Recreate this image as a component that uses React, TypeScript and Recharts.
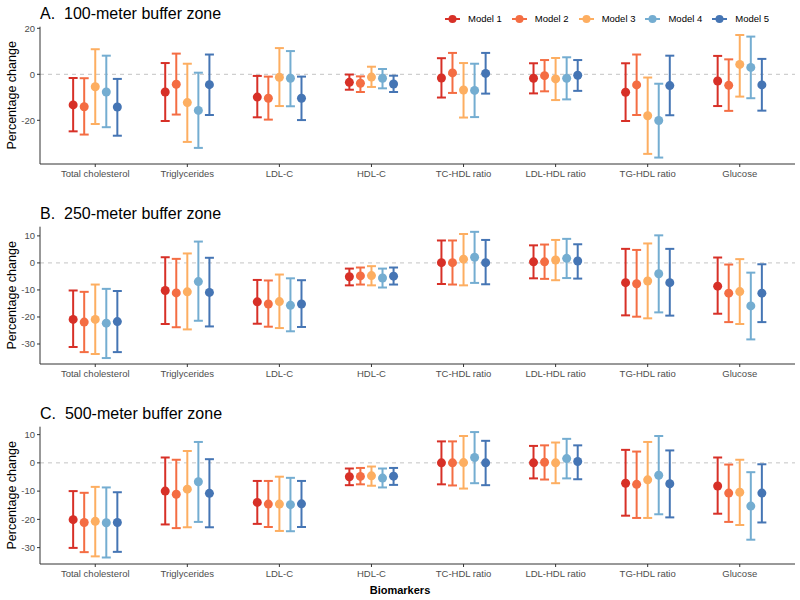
import { ErrorBar, ReferenceLine, Scatter, ScatterChart, XAxis, YAxis } from "recharts";

const BIOMARKERS = [
  "Total cholesterol",
  "Triglycerides",
  "LDL-C",
  "HDL-C",
  "TC-HDL ratio",
  "LDL-HDL ratio",
  "TG-HDL ratio",
  "Glucose",
];

const MODELS = ["Model 1", "Model 2", "Model 3", "Model 4", "Model 5"];
const MODEL_COLORS = ["#D73027", "#F46D43", "#FDAE61", "#74ADD1", "#4575B4"];
// position_dodge offsets, in category units
const DODGE = [-0.24, -0.12, 0, 0.12, 0.24];

// 100-meter buffer: rows = models, columns = biomarkers
const est100 = [
  [-13.3, -7.7, -9.9, -3.5, -1.6, -1.7, -7.8, -2.9],
  [-14.1, -4.3, -10.4, -3.9, 0.6, -0.6, -4.6, -4.8],
  [-5.4, -12.3, -1.3, -1.2, -6.8, -2.0, -18.0, 4.3],
  [-7.7, -15.7, -1.7, -1.7, -7.0, -1.7, -20.1, 3.0],
  [-14.2, -4.5, -10.4, -4.2, 0.4, -0.4, -4.9, -4.6],
];
const low100 = [
  [-24.8, -20.3, -18.7, -6.7, -10.1, -8.3, -20.3, -13.8],
  [-26.2, -17.5, -19.7, -7.7, -8.1, -7.4, -17.7, -15.9],
  [-21.6, -29.4, -13.8, -5.5, -18.8, -11.2, -34.6, -9.7],
  [-23.0, -32.0, -13.9, -6.1, -18.6, -10.9, -36.2, -10.4],
  [-26.7, -17.7, -19.9, -7.7, -8.4, -7.2, -17.8, -15.8],
];
const high100 = [
  [-1.6, 4.9, -0.7, -0.1, 7.0, 4.8, 4.8, 8.0],
  [-1.7, 9.0, -1.0, -0.9, 9.3, 6.2, 8.6, 6.5],
  [10.9, 4.6, 11.4, 3.3, 4.9, 7.1, -1.4, 17.1],
  [8.1, 0.7, 10.1, 2.3, 4.6, 7.4, -4.1, 16.4],
  [-2.0, 8.6, -1.0, -0.6, 9.3, 6.2, 8.1, 6.7],
];

// 250-meter buffer
const est250 = [
  [-20.9, -10.2, -14.4, -5.1, 0.1, 0.4, -7.3, -8.6],
  [-21.9, -11.1, -15.2, -4.8, 0.1, 0.4, -7.7, -11.2],
  [-20.9, -10.7, -14.3, -4.7, 1.4, 1.1, -6.7, -10.6],
  [-22.3, -6.9, -15.7, -5.6, 2.1, 1.7, -4.0, -15.9],
  [-21.7, -10.9, -15.2, -4.9, 0.1, 0.7, -7.3, -11.2],
];
const low250 = [
  [-31.1, -22.6, -22.5, -8.3, -7.8, -5.7, -19.4, -18.8],
  [-33.0, -23.8, -23.6, -8.0, -8.0, -5.9, -19.9, -21.9],
  [-33.7, -24.6, -24.1, -8.3, -8.3, -6.4, -20.5, -22.6],
  [-35.2, -21.4, -25.3, -9.1, -7.4, -5.6, -18.3, -28.3],
  [-33.0, -23.5, -23.7, -8.0, -7.9, -5.8, -19.5, -21.9],
];
const high250 = [
  [-10.2, 2.1, -6.3, -2.1, 8.3, 6.5, 5.2, 2.0],
  [-10.7, 1.5, -6.5, -1.7, 8.3, 6.8, 4.8, -0.6],
  [-8.0, 3.5, -4.3, -1.2, 10.7, 8.5, 7.2, 1.4],
  [-9.6, 7.9, -5.7, -2.1, 11.5, 8.9, 10.2, -3.6],
  [-10.4, 1.9, -6.4, -1.7, 8.5, 6.9, 5.2, -0.5],
];

// 500-meter buffer
const est500 = [
  [-20.1, -10.0, -14.0, -4.9, 0.0, 0.0, -7.2, -8.2],
  [-21.1, -11.1, -14.6, -4.8, 0.0, 0.2, -7.6, -10.7],
  [-20.7, -9.3, -14.6, -4.6, 0.1, 0.0, -6.0, -10.4],
  [-21.2, -6.7, -14.8, -5.4, 1.9, 1.5, -4.4, -15.3],
  [-21.1, -10.8, -14.5, -4.7, 0.0, 0.5, -7.4, -10.7],
];
const low500 = [
  [-30.1, -21.8, -21.6, -7.9, -7.6, -5.5, -18.7, -18.0],
  [-31.6, -23.1, -22.7, -7.6, -8.0, -5.9, -19.5, -20.9],
  [-33.1, -22.8, -24.1, -8.1, -9.1, -7.2, -19.5, -22.0],
  [-33.5, -20.9, -24.2, -8.7, -7.2, -5.5, -18.2, -27.2],
  [-31.5, -22.8, -22.7, -7.8, -7.9, -5.8, -19.3, -21.1],
];
const high500 = [
  [-10.0, 1.9, -6.4, -2.0, 7.6, 6.0, 4.6, 1.9],
  [-10.6, 1.1, -6.4, -1.8, 7.6, 6.2, 4.0, -0.6],
  [-8.5, 4.2, -4.9, -1.3, 9.5, 7.2, 7.4, 1.1],
  [-8.7, 7.4, -5.3, -2.0, 10.9, 8.5, 9.5, -3.3],
  [-10.4, 1.3, -6.4, -1.8, 7.8, 6.2, 4.4, -0.5],
];

const TICKS_100 = [-20, 0, 20];
const TICKS_WIDE = [-30, -20, -10, 0, 10];

const FONT = "'Liberation Sans', Arial, sans-serif";
const AXIS_COLOR = "#333333";
const TICK_COLOR = "#4D4D4D";

function buildRows(est: number[], low: number[], high: number[], k: number) {
  return est.map((v, i) => ({
    x: i + DODGE[k],
    y: v,
    err: [v - low[i], high[i] - v],
  }));
}

interface PanelProps {
  title: string;
  est: number[][];
  low: number[][];
  high: number[][];
  domain: [number, number];
  ticks: number[];
  top: number;
}

function BufferPanel({ title, est, low, high, domain, ticks, top }: PanelProps) {
  return (
    <div style={{ position: "absolute", left: 0, top, width: 800, height: 200 }}>
      <ScatterChart
        width={800}
        height={200}
        margin={{ top: 26.7, right: 5, bottom: 6, left: 0 }}
        style={{ fontFamily: FONT }}
      >
        <XAxis
          type="number"
          dataKey="x"
          domain={[-0.6, 7.6]}
          ticks={BIOMARKERS.map((_, i) => i)}
          tickFormatter={(v: number) => BIOMARKERS[v] ?? ""}
          interval={0}
          height={30}
          tickSize={3}
          tickMargin={3}
          stroke={AXIS_COLOR}
          tick={{ fill: TICK_COLOR, fontSize: 9.5, fontFamily: FONT }}
        />
        <YAxis
          type="number"
          dataKey="y"
          domain={domain}
          ticks={ticks}
          allowDataOverflow
          width={40}
          tickSize={3}
          tickMargin={2}
          stroke={AXIS_COLOR}
          tick={{ fill: TICK_COLOR, fontSize: 9.5, fontFamily: FONT }}
          label={{
            value: "Percentage change",
            angle: -90,
            position: "center",
            dx: -8,
            fill: "#000",
            fontSize: 12.5,
            fontFamily: FONT,
          }}
        />
        <ReferenceLine y={0} stroke="#C4C4C4" strokeDasharray="4 4" strokeWidth={1} />
        {MODELS.map((m, k) => (
          <Scatter
            key={m}
            name={m}
            data={buildRows(est[k], low[k], high[k], k)}
            fill={MODEL_COLORS[k]}
            isAnimationActive={false}
            shape={(p: any) => <circle cx={p.cx} cy={p.cy} r={4.5} fill={MODEL_COLORS[k]} />}
          >
            <ErrorBar
              dataKey="err"
              direction="y"
              width={4.5}
              stroke={MODEL_COLORS[k]}
              strokeWidth={2}
              isAnimationActive={false}
            />
          </Scatter>
        ))}
      </ScatterChart>
      <div
        style={{
          position: "absolute",
          left: 40,
          top: 6,
          fontSize: 16,
          lineHeight: "16px",
          whiteSpace: "pre",
          fontFamily: FONT,
          color: "#000",
        }}
      >
        {title}
      </div>
    </div>
  );
}

function ModelLegend() {
  return (
    <div
      style={{
        position: "absolute",
        left: 445,
        top: 12,
        display: "flex",
        gap: 10,
        fontFamily: FONT,
        fontSize: 9.5,
        lineHeight: "14px",
      }}
    >
      {MODELS.map((m, k) => (
        <div key={m} style={{ display: "flex", alignItems: "center", gap: 8 }}>
          <svg width={15} height={10}>
            <line x1={0} y1={5} x2={15} y2={5} stroke={MODEL_COLORS[k]} strokeWidth={2} />
            <circle cx={7.5} cy={5} r={4} fill={MODEL_COLORS[k]} />
          </svg>
          <span>{m}</span>
        </div>
      ))}
    </div>
  );
}

export default function App() {
  return (
    <div
      style={{
        position: "absolute",
        left: 0,
        top: 0,
        width: 800,
        height: 600,
        background: "#fff",
        overflow: "hidden",
      }}
    >
      <BufferPanel
        title="A.  100-meter buffer zone"
        est={est100}
        low={low100}
        high={high100}
        domain={[-39, 20.7]}
        ticks={TICKS_100}
        top={0}
      />
      <BufferPanel
        title="B.  250-meter buffer zone"
        est={est250}
        low={low250}
        high={high250}
        domain={[-37.4, 13.4]}
        ticks={TICKS_WIDE}
        top={200}
      />
      <BufferPanel
        title="C.  500-meter buffer zone"
        est={est500}
        low={low500}
        high={high500}
        domain={[-35.8, 12.8]}
        ticks={TICKS_WIDE}
        top={400}
      />
      <ModelLegend />
      <div
        style={{
          position: "absolute",
          left: 0,
          top: 583,
          width: 800,
          textAlign: "center",
          fontFamily: FONT,
          fontWeight: "bold",
          fontSize: 11,
          lineHeight: "14px",
        }}
      >
        Biomarkers
      </div>
    </div>
  );
}
